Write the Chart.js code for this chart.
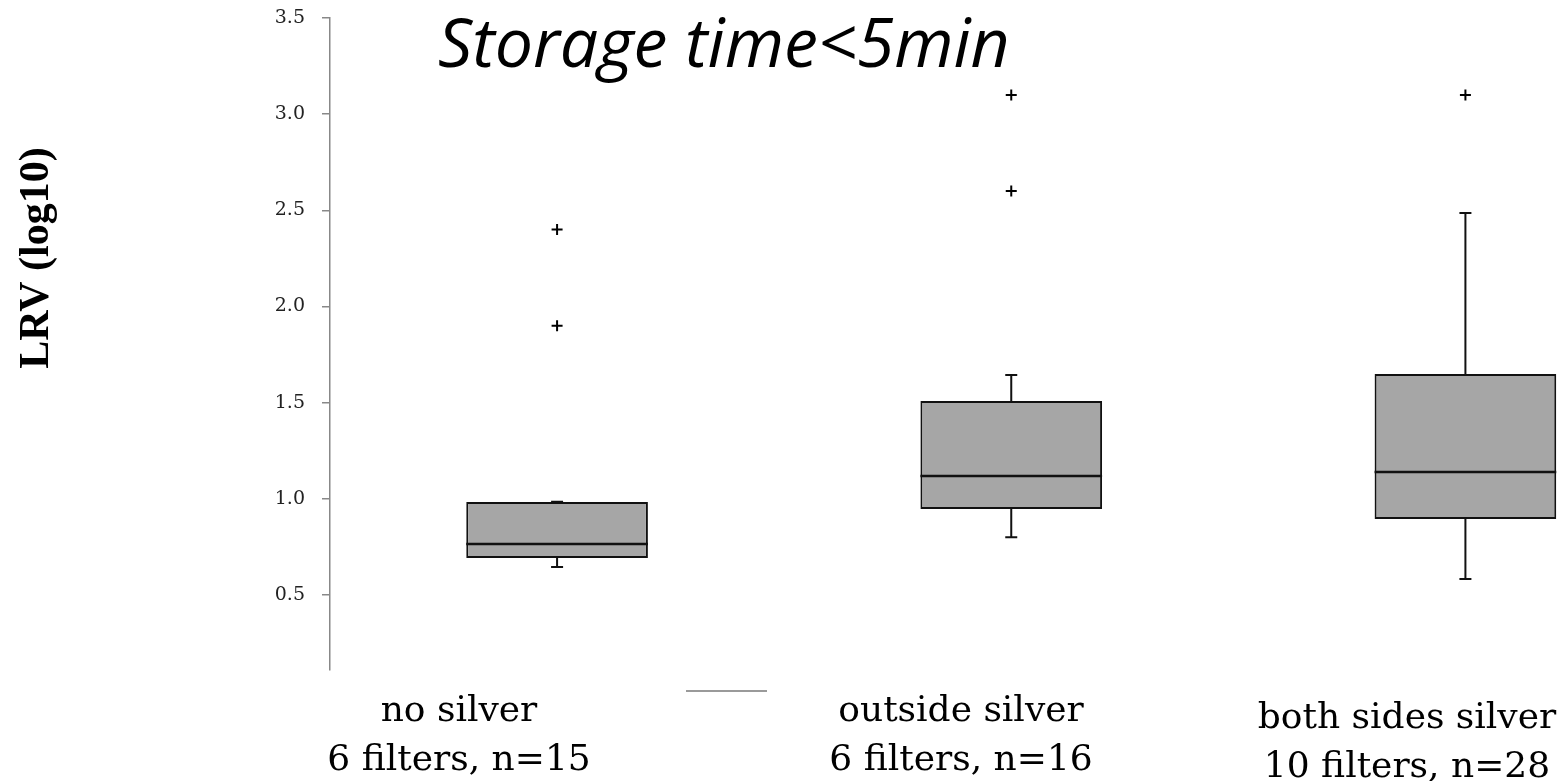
<!DOCTYPE html>
<html>
<head>
<meta charset="utf-8">
<title>LRV box plot</title>
<script src="https://cdn.jsdelivr.net/npm/chart.js@4.4.1/dist/chart.umd.min.js"></script>
<style>
  html, body { margin: 0; padding: 0; background: #fff; overflow: hidden; }
  #wrap { width: 1700px; height: 781px; }
</style>
</head>
<body>
<div id="wrap"><canvas id="lrv" width="1700" height="781"></canvas></div>
<script>
/* ── data ── */
const groups   = ['no silver', 'outside silver', 'both sides silver'];
const groupSub = ['6 filters, n=15', '6 filters, n=16', '10 filters, n=28'];
const whiskLo  = [0.646, 0.80, 0.583];
const q1       = [0.692, 0.947, 0.895];
const median   = [0.765, 1.119, 1.139];
const q3       = [0.984, 1.509, 1.649];
const whiskHi  = [0.985, 1.644, 2.486];
const outliers = [[1.9, 2.4], [2.6, 3.1], [3.1]];
const yTicks   = [0.5, 1.0, 1.5, 2.0, 2.5, 3.0, 3.5];

const chartTitle = 'Storage time<5min';
const yTitle     = 'LRV (log10)';

/* ── layout of the free text (figure was hand-annotated) ── */
const LABEL_X    = [459, 961, 1407];
const LABEL_BASE = [721, 721, 728];
const LABEL_GAP  = 49;
const LINE_CLR   = '#111';

/* ── whiskers, caps and medians, placed through the scales ── */
const boxExtras = {
  id: 'boxExtras',
  afterDatasetsDraw(chart) {
    const { ctx } = chart;
    const y = chart.scales.y;
    const bars = chart.getDatasetMeta(0).data;
    ctx.save();
    ctx.strokeStyle = LINE_CLR;
    bars.forEach((bar, i) => {
      const cx = bar.x, half = bar.width / 2, cap = 6;
      const yLo = y.getPixelForValue(whiskLo[i]);
      const yHi = y.getPixelForValue(whiskHi[i]);
      const yQ1 = y.getPixelForValue(q1[i]);
      const yQ3 = y.getPixelForValue(q3[i]);
      const yMd = y.getPixelForValue(median[i]);
      ctx.lineWidth = 2;
      ctx.beginPath();
      ctx.moveTo(cx, yQ1); ctx.lineTo(cx, yLo);
      ctx.moveTo(cx - cap, yLo); ctx.lineTo(cx + cap, yLo);
      ctx.moveTo(cx, yQ3); ctx.lineTo(cx, yHi);
      ctx.moveTo(cx - cap, yHi); ctx.lineTo(cx + cap, yHi);
      ctx.stroke();
      ctx.lineWidth = 2.5;
      ctx.beginPath();
      ctx.moveTo(cx - half, yMd); ctx.lineTo(cx + half, yMd);
      ctx.stroke();
    });
    ctx.restore();
  }
};

/* ── title, axis title, category text ── */
const annotations = {
  id: 'annotations',
  afterDraw(chart) {
    const { ctx } = chart;
    ctx.save();
    ctx.fillStyle = '#000';

    ctx.font = 'italic 68px "Open Sans"';
    ctx.textAlign = 'left';
    ctx.textBaseline = 'alphabetic';
    ctx.fillText(chartTitle, 438, 67);

    ctx.save();
    ctx.translate(37, 258);
    ctx.rotate(-Math.PI / 2);
    ctx.font = 'bold 42px "Liberation Serif"';
    ctx.textAlign = 'center';
    ctx.textBaseline = 'middle';
    ctx.fillText(yTitle, 0, 0);
    ctx.restore();

    ctx.font = '36px "DejaVu Serif"';
    ctx.textAlign = 'center';
    groups.forEach((g, i) => {
      ctx.fillText(g, LABEL_X[i], LABEL_BASE[i]);
      ctx.fillText(groupSub[i], LABEL_X[i], LABEL_BASE[i] + LABEL_GAP);
    });

    // stray grey legend stroke in the original
    ctx.strokeStyle = '#9a9a9a';
    ctx.lineWidth = 2;
    ctx.beginPath();
    ctx.moveTo(686, 691); ctx.lineTo(767, 691);
    ctx.stroke();
    ctx.restore();
  }
};

const outlierPts = [];
outliers.forEach((list, i) => list.forEach(v => outlierPts.push({ x: groups[i], y: v })));

new Chart(document.getElementById('lrv').getContext('2d'), {
  type: 'bar',
  data: {
    labels: groups,
    datasets: [
      {
        label: 'IQR',
        data: groups.map((_, i) => [q1[i], q3[i]]),
        backgroundColor: '#a6a6a6',
        borderColor: LINE_CLR,
        borderWidth: 2,
        borderSkipped: false,
        categoryPercentage: 1,
        barPercentage: 0.4,
        order: 2,
      },
      {
        type: 'line',
        label: 'outliers',
        data: outlierPts,
        showLine: false,
        pointStyle: 'cross',
        pointRadius: 5.5,
        pointBorderWidth: 2,
        pointBorderColor: '#000',
        order: 1,
      },
    ],
  },
  options: {
    responsive: false,
    animation: false,
    devicePixelRatio: 1,
    layout: { padding: { top: 18, bottom: 111, left: 0, right: 3 } },
    plugins: { legend: { display: false }, tooltip: { enabled: false } },
    scales: {
      x: { display: false, offset: true },
      y: {
        min: 0.11, max: 3.5,
        afterBuildTicks: s => { s.ticks = yTicks.map(v => ({ value: v })); },
        afterFit: s => { s.width = 330; s.paddingTop = 0; s.paddingBottom = 0; },
        ticks: {
          padding: 17,
          color: '#222',
          font: { family: '"DejaVu Serif"', size: 19 },
          callback: v => Number(v).toFixed(1),
        },
        grid: { drawOnChartArea: false, drawTicks: true, tickLength: 8, color: '#888', lineWidth: 1.5 },
        border: { color: '#888', width: 1.5 },
      },
    },
  },
  plugins: [boxExtras, annotations],
});
</script>
</body>
</html>
